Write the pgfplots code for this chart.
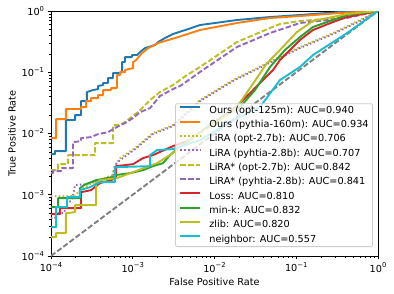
\documentclass[border=0pt]{standalone}
\usepackage{fontspec}
\setmainfont{DejaVu Sans}
\usepackage{pgfplots}
\pgfplotsset{compat=1.18}
\definecolor{cblue}{HTML}{1F77B4}
\definecolor{corange}{HTML}{FF7F0E}
\definecolor{cgreen}{HTML}{2CA02C}
\definecolor{cred}{HTML}{D62728}
\definecolor{cpurple}{HTML}{9467BD}
\definecolor{colive}{HTML}{BCBD22}
\definecolor{ccyan}{HTML}{17BECF}
\definecolor{cframe}{HTML}{CCCCCC}
\newcommand{\tl}[1]{10\raisebox{0.42em}{\fontsize{6.8}{7}\selectfont #1}}
\tikzset{ln/.style={line width=1.9pt, line join=round, line cap=round}}
\begin{document}
\begin{tikzpicture}
\begin{loglogaxis}[
  scale only axis, width=327pt, height=245pt,
  xmin=1e-4, xmax=1, ymin=1e-4, ymax=1,
  xtick={1e-4,1e-3,1e-2,1e-1,1}, ytick={1e-4,1e-3,1e-2,1e-1,1},
  xticklabels={\tl{−4},\tl{−3},\tl{−2},\tl{−1},\tl{0}},
  yticklabels={\tl{−4},\tl{−3},\tl{−2},\tl{−1},\tl{0}},
  minor xtick={2e-4,3e-4,4e-4,5e-4,6e-4,7e-4,8e-4,9e-4,2e-3,3e-3,4e-3,5e-3,6e-3,7e-3,8e-3,9e-3,0.02,0.03,0.04,0.05,0.06,0.07,0.08,0.09,0.2,0.3,0.4,0.5,0.6,0.7,0.8,0.9},
  minor ytick={2e-4,3e-4,4e-4,5e-4,6e-4,7e-4,8e-4,9e-4,2e-3,3e-3,4e-3,5e-3,6e-3,7e-3,8e-3,9e-3,0.02,0.03,0.04,0.05,0.06,0.07,0.08,0.09,0.2,0.3,0.4,0.5,0.6,0.7,0.8,0.9},
  xtick pos=bottom, ytick pos=left,
  tick align=outside,
  major tick length=3.4pt, minor tick length=1.9pt,
  major tick style={line width=0.78pt, black},
  minor tick style={line width=0.6pt, black},
  axis line style={line width=0.78pt},
  tick label style={font=\fontsize{9.7}{11.6}\selectfont},
  xlabel={False Positive Rate}, ylabel={True Positive Rate},
  label style={font=\fontsize{9.7}{11.6}\selectfont},
  xlabel style={at={(axis description cs:0.5,-0.1061)}, anchor=center},
  ylabel style={at={(axis description cs:-0.1193,0.5)}, anchor=center},
  legend cell align=left,
  legend image code/.code={\draw[#1, line cap=butt] (0pt,3.3pt) -- (20pt,3.3pt);},
  legend style={at={(axis description cs:0.9847,0.0367)}, anchor=south east,
    draw=cframe, line width=0.78pt, fill=white, fill opacity=0.8, text opacity=1, draw opacity=1,
    rounded corners=2pt, font=\fontsize{9.7}{11.6}\selectfont,
    nodes={inner sep=0pt, text height=7pt, text depth=2pt},
    row sep=5.33pt, column sep=8pt, inner xsep=4pt, inner ysep=2.5pt},
]
\addplot[ln, line cap=butt, gray, dash pattern=on 5.4pt off 2.3pt, forget plot] coordinates {(1e-4,1e-4)(1,1)};
\addplot[ln, cblue] coordinates {(1e-4,4.60e-3)(1.12e-4,4.60e-3)(1.12e-4,5.15e-3)(1.52e-4,5.15e-3)(1.52e-4,0.0166)(1.97e-4,0.0166)(1.97e-4,0.0200)(2.33e-4,0.0200)(2.33e-4,0.0338)(2.75e-4,0.0338)(2.75e-4,0.0475)(3.27e-4,0.0512)(3.76e-4,0.0531)(3.76e-4,0.0595)(4.33e-4,0.0618)(4.33e-4,0.0667)(4.98e-4,0.0667)(4.98e-4,0.0804)(5.73e-4,0.0804)(5.73e-4,0.0970)(6.98e-4,0.0970)(7.40e-4,0.1007)(7.40e-4,0.147)(8.04e-4,0.147)(8.04e-4,0.177)(9.77e-4,0.177)(9.77e-4,0.191)(1.13e-3,0.191)(1.23e-3,0.214)(1.41e-3,0.248)(1.87e-3,0.278)(2.04e-3,0.311)(2.48e-3,0.362)(3.10e-3,0.421)(4.61e-3,0.50)(6.65e-3,0.59)(0.0188,0.713)(0.0478,0.798)(0.111,0.861)(0.343,0.963)(1,1)};
\addlegendentry{Ours (opt-125m): AUC=0.940}
\addplot[ln, corange] coordinates {(1e-4,8.41e-3)(1.15e-4,8.41e-3)(1.15e-4,0.0172)(1.52e-4,0.0172)(1.52e-4,0.0251)(2.33e-4,0.0251)(2.33e-4,0.0270)(2.68e-4,0.0270)(2.68e-4,0.0338)(3.09e-4,0.0338)(3.09e-4,0.0379)(3.76e-4,0.0379)(3.76e-4,0.0424)(4.33e-4,0.0424)(4.33e-4,0.0512)(5.42e-4,0.0512)(5.42e-4,0.0552)(6.41e-4,0.0552)(6.41e-4,0.090)(6.98e-4,0.090)(6.98e-4,0.1007)(8.04e-4,0.1007)(8.04e-4,0.109)(1.01e-3,0.117)(1.01e-3,0.147)(1.10e-3,0.158)(1.30e-3,0.206)(1.54e-3,0.248)(2.04e-3,0.300)(3.29e-3,0.362)(6.65e-3,0.490)(0.0188,0.637)(0.0478,0.769)(0.111,0.828)(0.343,0.927)(1,1)};
\addlegendentry{Ours (pythia-160m): AUC=0.934}
\addplot[ln, line cap=butt, colive, dash pattern=on 1.5pt off 2.4pt] coordinates {(1e-4,9.48e-4)(1.97e-4,9.48e-4)(2.14e-4,1.10e-3)(3.00e-4,1.49e-3)(3.97e-4,1.73e-3)(5.57e-4,2.09e-3)(6.06e-4,2.93e-3)(6.98e-4,3.96e-3)(1.07e-3,5.77e-3)(1.77e-3,0.0102)(3.10e-3,0.0137)(6.65e-3,0.0351)(0.0168,0.0746)(0.0439,0.141)(0.111,0.258)(0.282,0.437)(0.603,0.713)(1,1)};
\addlegendentry{LiRA (opt-2.7b): AUC=0.706}
\addplot[ln, line cap=butt, cpurple, dash pattern=on 1.5pt off 2.4pt] coordinates {(1e-4,4.15e-4)(1.12e-4,4.15e-4)(1.12e-4,5.00e-4)(1.44e-4,5.00e-4)(1.57e-4,7.29e-4)(1.81e-4,8.16e-4)(1.97e-4,1.44e-3)(2.68e-4,1.49e-3)(3.97e-4,1.73e-3)(5.73e-4,2.01e-3)(6.06e-4,3.05e-3)(6.98e-4,3.68e-3)(1.07e-3,5.56e-3)(1.77e-3,9.78e-3)(3.10e-3,0.0132)(6.65e-3,0.0338)(0.0168,0.0718)(0.0439,0.136)(0.111,0.248)(0.282,0.421)(0.603,0.687)(1,1)};
\addlegendentry{LiRA (pyhtia-2.8b): AUC=0.707}
\addplot[ln, line cap=butt, colive, dash pattern=on 5.4pt off 2.3pt] coordinates {(1e-4,2.52e-3)(1.22e-4,2.52e-3)(1.22e-4,3.16e-3)(1.61e-4,3.16e-3)(1.61e-4,4.44e-3)(3.45e-4,4.44e-3)(3.45e-4,6.96e-3)(5.73e-4,6.96e-3)(5.73e-4,0.0137)(6.98e-4,0.0137)(8.04e-4,0.0154)(1.16e-3,0.0224)(1.63e-3,0.0351)(2.15e-3,0.0475)(3.10e-3,0.0618)(4.61e-3,0.090)(6.65e-3,0.122)(0.0188,0.311)(0.0478,0.527)(0.0632,0.613)(0.111,0.687)(0.418,0.798)(1,1)};
\addlegendentry{LiRA* (opt-2.7b): AUC=0.842}
\addplot[ln, line cap=butt, cpurple, dash pattern=on 5.4pt off 2.3pt] coordinates {(1e-4,2.25e-3)(1.06e-4,2.25e-3)(1.06e-4,2.43e-3)(1.33e-4,2.43e-3)(1.33e-4,2.72e-3)(1.86e-4,2.72e-3)(1.86e-4,7.23e-3)(2.33e-4,7.51e-3)(2.33e-4,8.41e-3)(3.09e-4,8.73e-3)(3.76e-4,9.78e-3)(4.98e-4,0.0105)(6.06e-4,0.0123)(8.04e-4,0.0148)(1.01e-3,0.0179)(1.23e-3,0.0224)(1.63e-3,0.0260)(2.15e-3,0.0408)(3.29e-3,0.0552)(3.79e-3,0.0595)(7.23e-3,0.109)(0.0188,0.258)(0.0478,0.437)(0.111,0.637)(0.418,0.769)(1,1)};
\addlegendentry{LiRA* (pyhtia-2.8b): AUC=0.841}
\addplot[ln, cred] coordinates {(1e-4,4.82e-4)(1.29e-4,4.82e-4)(1.29e-4,6.04e-4)(2.33e-4,6.04e-4)(2.33e-4,1.10e-3)(3.09e-4,1.19e-3)(3.97e-4,1.55e-3)(5.42e-4,1.73e-3)(6.24e-4,1.87e-3)(6.24e-4,2.93e-3)(1.01e-3,3.16e-3)(1.33e-3,3.96e-3)(1.77e-3,4.44e-3)(3.10e-3,6.22e-3)(5.01e-3,7.80e-3)(0.0101,0.0154)(0.0188,0.0281)(0.0272,0.0457)(0.0520,0.109)(0.0632,0.158)(0.111,0.336)(0.160,0.490)(0.282,0.661)(0.418,0.798)(1,1)};
\addlegendentry{Loss: AUC=0.810}
\addplot[ln, cgreen] coordinates {(1e-4,6.27e-4)(1.22e-4,6.27e-4)(1.22e-4,8.80e-4)(2.26e-4,8.80e-4)(2.26e-4,1.28e-3)(2.54e-4,1.44e-3)(3.09e-4,1.61e-3)(3.55e-4,1.73e-3)(5.73e-4,1.94e-3)(6.06e-4,2.09e-3)(9.25e-4,2.25e-3)(1.33e-3,2.52e-3)(1.77e-3,2.93e-3)(2.34e-3,3.28e-3)(2.86e-3,4.44e-3)(3.58e-3,5.77e-3)(6.65e-3,0.0105)(0.0117,0.0179)(0.0205,0.0270)(0.0313,0.0512)(0.0478,0.122)(0.0728,0.231)(0.111,0.376)(0.160,0.548)(0.418,0.861)(1,1)};
\addlegendentry{min-k: AUC=0.832}
\addplot[ln, colive] coordinates {(1e-4,2.03e-4)(1.15e-4,2.03e-4)(1.15e-4,2.36e-4)(1.52e-4,2.36e-4)(1.52e-4,5.00e-4)(1.97e-4,5.20e-4)(1.97e-4,6.76e-4)(3.55e-4,6.76e-4)(3.55e-4,1.55e-3)(3.97e-4,1.73e-3)(6.41e-4,1.87e-3)(1.01e-3,2.34e-3)(1.98e-3,3.28e-3)(3.10e-3,4.79e-3)(6.65e-3,0.0102)(0.0117,0.0166)(0.0188,0.0270)(0.0272,0.0552)(0.0439,0.141)(0.0632,0.231)(0.102,0.454)(0.160,0.687)(0.418,0.893)(1,1)};
\addlegendentry{zlib: AUC=0.820}
\addplot[ln, ccyan] coordinates {(1e-4,2.96e-4)(1.15e-4,2.96e-4)(1.15e-4,6.27e-4)(1.57e-4,6.27e-4)(1.57e-4,9.14e-4)(2.26e-4,9.14e-4)(2.26e-4,1.19e-3)(3.00e-4,1.33e-3)(3.97e-4,1.61e-3)(6.06e-4,1.61e-3)(6.06e-4,2.82e-3)(1.63e-3,2.93e-3)(1.63e-3,4.44e-3)(1.98e-3,5.36e-3)(3.10e-3,5.56e-3)(3.58e-3,6.00e-3)(6.65e-3,7.80e-3)(0.0155,0.0154)(0.0360,0.0270)(0.0632,0.0746)(0.111,0.122)(0.160,0.191)(0.418,0.437)(1,1)};
\addlegendentry{neighbor: AUC=0.557}
\end{loglogaxis}
\pgfresetboundingbox
\path[use as bounding box] (-51pt,-38pt) rectangle (343pt,256pt);
\end{tikzpicture}
\end{document}
